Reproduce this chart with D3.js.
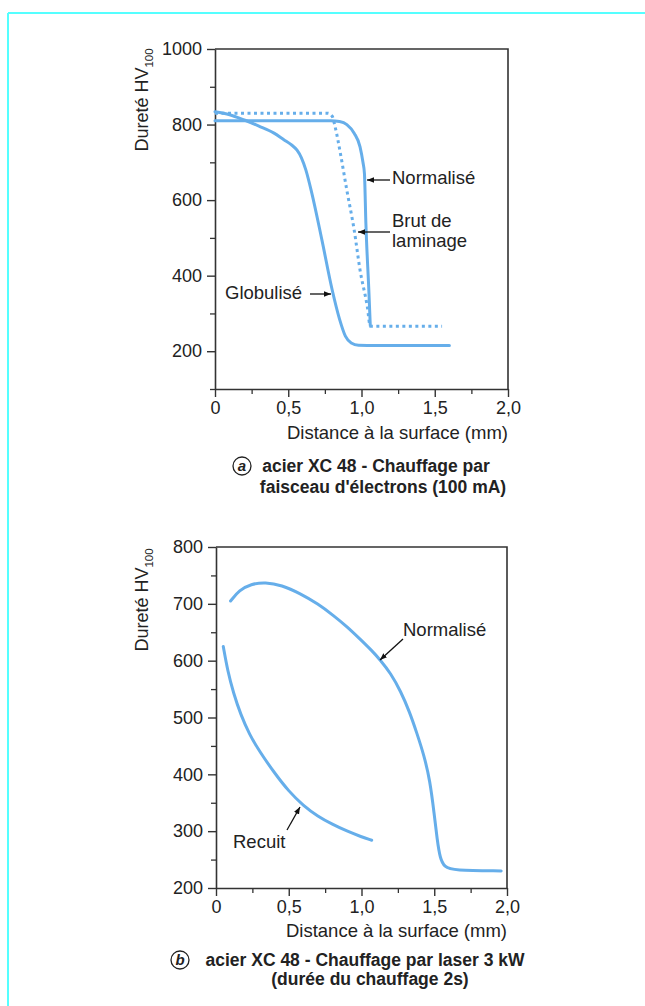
<!DOCTYPE html>
<html><head><meta charset="utf-8">
<script src="https://cdn.jsdelivr.net/npm/d3@7"></script>
<style>
html,body{margin:0;padding:0;background:#fff;}
text{font-family:"Liberation Sans",Arial,Helvetica,sans-serif;fill:#222;}
</style></head>
<body>
<script>
// ---------- DATA ----------
const xTickValues = [0, 0.5, 1.0, 1.5, 2.0];
const xTickLabels = ["0", "0,5", "1,0", "1,5", "2,0"];
const xMinorTicks = [0.25, 0.75, 1.25, 1.75];

// chart a
const aYTicks = [200, 400, 600, 800, 1000];
const aYMinor = [100, 300, 500, 700, 900];
const aNormX = [0, 0.4, 0.79, 0.85, 0.9, 0.95, 0.99, 1.01, 1.02, 1.03, 1.05, 1.06];
const aNormY = [810, 810, 810, 808, 800, 777, 741, 700, 671, 538, 362, 268];
const aBrutX = [0, 0.4, 0.77, 0.8, 0.82, 0.86, 0.9, 0.95, 0.99, 1.04, 1.06, 1.3, 1.55];
const aBrutY = [830, 830, 830, 822, 794, 715, 626, 521, 415, 317, 266, 266, 266];
const aGlobX = [0, 0.1, 0.2, 0.3, 0.4, 0.47, 0.52, 0.56, 0.59, 0.62, 0.66, 0.73, 0.8, 0.85, 0.89, 0.93, 0.98, 1.1, 1.6];
const aGlobY = [834, 826, 812, 796, 778, 760, 747, 732, 712, 680, 620, 494, 362, 285, 240, 222, 216, 215, 215];

// chart b
const bYTicks = [200, 300, 400, 500, 600, 700, 800];
const bYMinor = [250, 350, 450, 550, 650, 750];
const bNormX = [0.1, 0.16, 0.24, 0.34, 0.45, 0.58, 0.7, 0.81, 0.9, 0.99, 1.07, 1.13, 1.2, 1.27, 1.33, 1.38, 1.43, 1.47, 1.5, 1.52, 1.54, 1.57, 1.63, 1.96];
const bNormY = [705, 724, 735, 738, 733, 718, 700, 679, 660, 638, 618, 601, 578, 546, 510, 473, 433, 390, 330, 285, 252, 237, 231, 230];
const bRecX = [0.05, 0.08, 0.12, 0.17, 0.23, 0.3, 0.4, 0.5, 0.6, 0.7, 0.8, 0.9, 1.0, 1.07];
const bRecY = [625, 582, 543, 505, 470, 440, 403, 370, 345, 326, 312, 300, 290, 284];

// ---------- DRAW ----------
const W = 645, H = 1006;
const svg = d3.select("body").append("svg").attr("width", W).attr("height", H);
svg.append("rect").attr("width", W).attr("height", H).attr("fill", "#fff");

const defs = svg.append("defs");
defs.append("marker").attr("id", "arr").attr("viewBox", "0 0 10 10")
  .attr("refX", 10).attr("refY", 5).attr("markerWidth", 7).attr("markerHeight", 7)
  .attr("markerUnits", "userSpaceOnUse").attr("orient", "auto")
  .append("path").attr("d", "M0,1 L10,5 L0,9 Z").attr("fill", "#111");

// page border
svg.append("line").attr("x1", 8).attr("y1", 13).attr("x2", W).attr("y2", 13)
  .attr("stroke", "#55ffff").attr("stroke-width", 2);
svg.append("line").attr("x1", 8).attr("y1", 13).attr("x2", 8).attr("y2", H)
  .attr("stroke", "#55ffff").attr("stroke-width", 2);

const AX = "#333", CURVE = "#66aeea";
const fmt = d => xTickLabels[xTickValues.indexOf(d)];

function panel(cfg) {
  const x = d3.scaleLinear().domain([0, 2]).range(cfg.xr);
  const y = d3.scaleLinear().domain(cfg.yd).range(cfg.yr);
  const g = svg.append("g");
  g.append("g").attr("transform", `translate(0,${cfg.yr[0]})`)
    .call(d3.axisBottom(x).tickValues(xMinorTicks).tickSize(5).tickFormat(""))
    .call(s => { s.select(".domain").remove(); s.selectAll("line").attr("stroke", AX).attr("stroke-width", 1.3); });
  g.append("g").attr("transform", `translate(${cfg.xr[0]},0)`)
    .call(d3.axisLeft(y).tickValues(cfg.yMinor).tickSize(5).tickFormat(""))
    .call(s => { s.select(".domain").remove(); s.selectAll("line").attr("stroke", AX).attr("stroke-width", 1.3); });
  const xa = g.append("g").attr("transform", `translate(0,${cfg.yr[0]})`)
    .call(d3.axisBottom(x).tickValues(xTickValues).tickSize(8).tickSizeOuter(0).tickPadding(4).tickFormat(fmt));
  const ya = g.append("g").attr("transform", `translate(${cfg.xr[0]},0)`)
    .call(d3.axisLeft(y).tickValues(cfg.yTicks).tickSize(8).tickSizeOuter(0).tickPadding(5).tickFormat(d => String(d)));
  [xa, ya].forEach(a => {
    a.select(".domain").attr("stroke", AX).attr("stroke-width", 1.6);
    a.selectAll("line").attr("stroke", AX).attr("stroke-width", 1.4);
    a.selectAll("text").style("font-size", "18px").attr("fill", "#222");
  });
  g.append("path").attr("d", `M${cfg.xr[0]},${cfg.yr[1]} H${cfg.xr[1]} V${cfg.yr[0]}`)
    .attr("fill", "none").attr("stroke", AX).attr("stroke-width", 1.6);
  g.append("text").attr("x", cfg.xr[1]).attr("y", cfg.xTitleY).attr("text-anchor", "end")
    .style("font-size", "18.5px").text("Distance à la surface (mm)");
  const yt = g.append("text").attr("transform", `translate(${cfg.yTitleX},${cfg.yTitleY}) rotate(-90)`)
    .attr("text-anchor", "middle").style("font-size", "18px");
  yt.append("tspan").text("Dureté HV");
  yt.append("tspan").attr("dy", 5).style("font-size", "11.5px").text("100");
  return { x, y, g };
}

function curve(p, xs, ys, dashed, interp) {
  const line = d3.line().x(d => p.x(d[0])).y(d => p.y(d[1])).curve(interp);
  p.g.append("path").attr("d", line(xs.map((v, i) => [v, ys[i]])))
    .attr("fill", "none").attr("stroke", CURVE).attr("stroke-width", 3)
    .attr("stroke-linejoin", "round").attr("stroke-linecap", dashed ? "butt" : "round")
    .attr("stroke-dasharray", dashed ? "3,3.5" : null);
}
function label(lines, x, y, lh) {
  const t = svg.append("text").style("font-size", "18.5px");
  lines.forEach((s, i) => t.append("tspan").attr("x", x).attr("y", y + i * lh).text(s));
}
function arrow(x1, y1, x2, y2) {
  svg.append("line").attr("x1", x1).attr("y1", y1).attr("x2", x2).attr("y2", y2)
    .attr("stroke", "#111").attr("stroke-width", 1.3).attr("marker-end", "url(#arr)");
}
function caption(letter, cx, cy, lines) {
  svg.append("circle").attr("cx", cx).attr("cy", cy).attr("r", 9)
    .attr("fill", "none").attr("stroke", "#222").attr("stroke-width", 1.3);
  svg.append("text").attr("x", cx).attr("y", cy + 5).attr("text-anchor", "middle")
    .style("font-size", "15px").style("font-style", "italic").style("font-weight", "bold").text(letter);
  lines.forEach(l => svg.append("text").attr("x", l.x).attr("y", l.y).attr("text-anchor", "middle")
    .style("font-size", "17.5px").style("font-weight", "bold").text(l.t));
}

// ---- panel a ----
const pa = panel({ xr: [215, 508], yd: [100, 1000], yr: [389, 49], yTicks: aYTicks, yMinor: aYMinor,
  xTitleY: 439, yTitleX: 148, yTitleY: 100 });
curve(pa, aBrutX, aBrutY, true, d3.curveMonotoneX);
curve(pa, aNormX, aNormY, false, d3.curveMonotoneX);
curve(pa, aGlobX, aGlobY, false, d3.curveMonotoneX);
label(["Normalisé"], 392, 184, 0);
arrow(390, 180, 367, 180);
label(["Brut de", "laminage"], 392, 227, 20);
arrow(390, 232, 358, 232);
label(["Globulisé"], 225, 299, 0);
arrow(310, 294, 331, 294);
caption("a", 242, 466, [{ t: "acier XC 48 - Chauffage par", x: 376, y: 472 },
  { t: "faisceau d'électrons (100 mA)", x: 383, y: 493 }]);

// ---- panel b ----
const pb = panel({ xr: [216, 507], yd: [200, 800], yr: [888, 547], yTicks: bYTicks, yMinor: bYMinor,
  xTitleY: 937, yTitleX: 148, yTitleY: 600 });
curve(pb, bNormX, bNormY, false, d3.curveBasis);
curve(pb, bRecX, bRecY, false, d3.curveBasis);
label(["Normalisé"], 403, 636, 0);
arrow(403, 639, 380, 660);
label(["Recuit"], 233, 848, 0);
arrow(287, 830, 300, 807);
caption("b", 180, 960, [{ t: "acier XC 48 - Chauffage par laser 3 kW", x: 365, y: 966 },
  { t: "(durée du chauffage 2s)", x: 370, y: 985 }]);
</script>
</body></html>
